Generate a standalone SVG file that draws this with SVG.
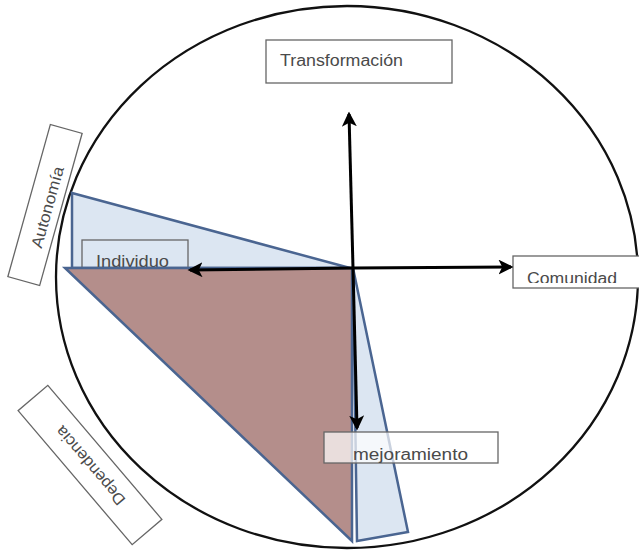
<svg xmlns="http://www.w3.org/2000/svg" width="639" height="552" viewBox="0 0 639 552">
<style>
.lbl{font-family:"Liberation Sans",Arial,sans-serif;font-size:16px;fill:#4a4a4a}
.box{fill:#fff;stroke:#666;stroke-width:1.3}
.blue{fill:#dce6f2;stroke:#4a6591;stroke-width:2.5;stroke-linejoin:miter}
.brown{fill:#b48e8b;stroke:#4a6591;stroke-width:2.5}
.arr{stroke:#000;stroke-width:3;fill:none}
</style>
<defs>
<marker id="ah" viewBox="0 0 12 12" refX="10" refY="6" markerWidth="5" markerHeight="5" orient="auto" markerUnits="strokeWidth">
<path d="M0,0 L12,6 L0,12 L3,6 Z" fill="#000"/>
</marker>
<clipPath id="cComu"><rect x="513" y="256" width="130" height="27"/></clipPath>
<clipPath id="cMejo"><rect x="324" y="448" width="174" height="15"/></clipPath>
</defs>
<rect width="639" height="552" fill="#fff"/>
<g id="circle">
<ellipse cx="347" cy="277" rx="291" ry="271" fill="none" stroke="#111" stroke-width="2.3"/>
</g>
<g id="transformacion">
<rect class="box" x="266" y="40" width="186" height="43"/>
<text class="lbl" x="280" y="66" textLength="123" lengthAdjust="spacingAndGlyphs">Transformación</text>
</g>
<g id="autonomia">
<rect class="box" x="-16.5" y="-79" width="33" height="158" transform="translate(45,205) rotate(15.6)"/>
<text class="lbl" x="0" y="6" text-anchor="middle" transform="translate(47,207) rotate(-74.4)" textLength="84" lengthAdjust="spacingAndGlyphs">Autonomía</text>
</g>
<g id="dependencia">
<rect class="box" x="-88" y="-19.5" width="176" height="39" transform="translate(90,465) rotate(229.6)"/>
<text class="lbl" x="0" y="6" text-anchor="middle" transform="translate(90,466) rotate(229.6)" textLength="98" lengthAdjust="spacingAndGlyphs">Dependencia</text>
</g>
<g id="triangulo-superior">
<polygon class="blue" points="72,193 350,268 72,268"/>
</g>
<g id="individuo">
<rect x="82" y="240" width="106" height="30" fill="none" stroke="#666" stroke-width="1.3"/>
<text class="lbl" x="96" y="267" textLength="73" lengthAdjust="spacingAndGlyphs">Individuo</text>
</g>
<g id="triangulo-inferior">
<polygon class="brown" points="65,268 352,268 352,541"/>
</g>
<g id="triangulo-derecho">
<polygon class="blue" points="353,268 408,532 357,541"/>
</g>
<g id="comunidad">
<rect class="box" x="513" y="256" width="140" height="32"/>
<text class="lbl" x="527" y="284" textLength="90" lengthAdjust="spacingAndGlyphs" clip-path="url(#cComu)">Comunidad</text>
</g>
<g id="mejoramiento">
<rect x="324" y="432" width="174" height="31" fill="#fff" fill-opacity="0.7" stroke="#666" stroke-width="1.3"/>
<text class="lbl" x="353" y="460" textLength="115" lengthAdjust="spacingAndGlyphs" clip-path="url(#cMejo)">mejoramiento</text>
</g>
<g id="connectors">
<line class="arr" x1="353" y1="268" x2="349" y2="114" marker-end="url(#ah)"/>
<line class="arr" x1="353" y1="268" x2="357" y2="428" marker-end="url(#ah)"/>
<line class="arr" x1="353" y1="268" x2="190" y2="270" marker-end="url(#ah)"/>
<line class="arr" x1="353" y1="268" x2="511" y2="267" marker-end="url(#ah)"/>
</g>
</svg>
